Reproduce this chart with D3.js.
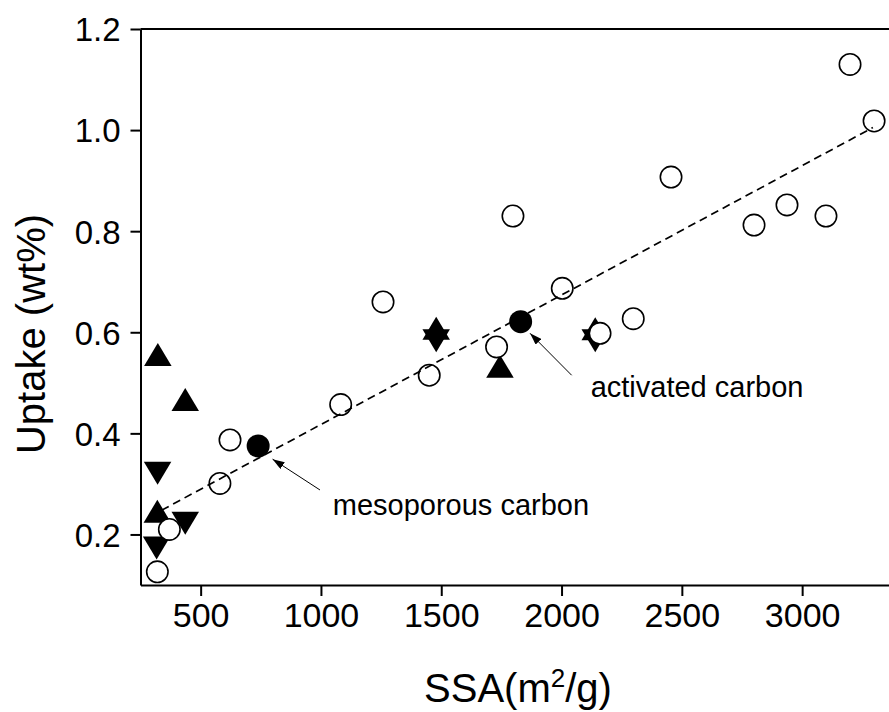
<!DOCTYPE html>
<html>
<head>
<meta charset="utf-8">
<script src="https://cdn.jsdelivr.net/npm/d3@7"></script>
<style>
  body { margin: 0; background: #fff; }
  svg { display: block; font-family: Arial, "Liberation Sans", sans-serif; }
</style>
</head>
<body>
<div id="chart"></div>
<script>
// values
const openX = [320, 370, 580, 622, 1082, 1258, 1450, 1730, 1798, 2003, 2160, 2298, 2455, 2800, 2937, 3099, 3199, 3299];
const openY = [0.126, 0.210, 0.301, 0.387, 0.457, 0.660, 0.515, 0.571, 0.830, 0.687, 0.598, 0.627, 0.907, 0.812, 0.852, 0.830, 1.130, 1.018];

const filledX = [739, 1830];
const filledY = [0.375, 0.621];

const upX = [322, 436, 320, 1744, 1479, 2140];
const upY = [0.556, 0.467, 0.246, 0.533, 0.608, 0.607];

const downX = [321, 436, 317, 1479, 2140];
const downY = [0.321, 0.222, 0.173, 0.583, 0.583];

const fitX = [338, 3294];
const fitY = [0.248, 1.005];

const xTicks = [500, 1000, 1500, 2000, 2500, 3000];
const yTicks = [0.2, 0.4, 0.6, 0.8, 1.0, 1.2];

const notes = [
  {text: "mesoporous carbon", tx: 1049, ty: 0.2385, x1: 996, y1: 0.288, x2: 799, y2: 0.349},
  {text: "activated carbon", tx: 2121, ty: 0.4725, x1: 2042, y1: 0.515, x2: 1869, y2: 0.598}
];

const width = 889, height = 712;

const x = d3.scaleLinear().domain([250, 3400]).range([140.5, 140.5 + 3150 * 0.2406]);
const y = d3.scaleLinear().domain([0.1, 1.2]).range([585, 29]);

const svg = d3.select("#chart").append("svg")
  .attr("width", width)
  .attr("height", height);

svg.append("defs").append("marker")
  .attr("id", "arrow")
  .attr("viewBox", "0 0 12 8")
  .attr("refX", 12).attr("refY", 4)
  .attr("markerWidth", 12).attr("markerHeight", 8)
  .attr("markerUnits", "userSpaceOnUse")
  .attr("orient", "auto")
  .append("path")
  .attr("d", "M0,0L12,4L0,8Z")
  .attr("fill", "#000");

// axes
const xAxis = svg.append("g")
  .attr("transform", `translate(0,${y(0.1)})`)
  .call(d3.axisBottom(x).tickValues(xTicks).tickFormat(d3.format("d")).tickSize(11).tickPadding(7).tickSizeOuter(0));
xAxis.selectAll("text").attr("font-size", 34).attr("fill", "#000");

const yAxis = svg.append("g")
  .attr("transform", `translate(${x(250)},0)`)
  .call(d3.axisLeft(y).tickValues(yTicks).tickFormat(d3.format(".1f")).tickSize(10).tickPadding(10).tickSizeOuter(0));
yAxis.selectAll("text").attr("font-size", 33).attr("fill", "#000").attr("dy", "0.36em");

svg.selectAll(".domain, .tick line").attr("stroke", "#000").attr("stroke-width", 2);

svg.append("line")
  .attr("x1", x(250)).attr("x2", width)
  .attr("y1", y(1.2)).attr("y2", y(1.2))
  .attr("stroke", "#000").attr("stroke-width", 2);

// markers
const triH = 23, triW = 27.5;
const upPath = `M0,${-triH / 2}L${triW / 2},${triH / 2}L${-triW / 2},${triH / 2}Z`;
const downPath = `M0,${triH / 2}L${triW / 2},${-triH / 2}L${-triW / 2},${-triH / 2}Z`;

svg.append("g").selectAll("path")
  .data(d3.zip(upX, upY))
  .join("path")
    .attr("transform", d => `translate(${x(d[0])},${y(d[1])})`)
    .attr("d", upPath)
    .attr("fill", "#000");

svg.append("g").selectAll("path")
  .data(d3.zip(downX, downY))
  .join("path")
    .attr("transform", d => `translate(${x(d[0])},${y(d[1])})`)
    .attr("d", downPath)
    .attr("fill", "#000");

svg.append("g").selectAll("circle")
  .data(d3.zip(openX, openY))
  .join("circle")
    .attr("cx", d => x(d[0]))
    .attr("cy", d => y(d[1]))
    .attr("r", 10.7)
    .attr("fill", "#fff")
    .attr("stroke", "#000")
    .attr("stroke-width", 1.6);

svg.append("g").selectAll("circle")
  .data(d3.zip(filledX, filledY))
  .join("circle")
    .attr("cx", d => x(d[0]))
    .attr("cy", d => y(d[1]))
    .attr("r", 11.5)
    .attr("fill", "#000");

// linear fit
svg.append("path")
  .datum(d3.zip(fitX, fitY))
  .attr("d", d3.line().x(d => x(d[0])).y(d => y(d[1])))
  .attr("fill", "none")
  .attr("stroke", "#000")
  .attr("stroke-width", 1.7)
  .attr("stroke-dasharray", "8,5");

// annotations
const note = svg.append("g").selectAll("g").data(notes).join("g");
note.append("line")
  .attr("x1", d => x(d.x1)).attr("y1", d => y(d.y1))
  .attr("x2", d => x(d.x2)).attr("y2", d => y(d.y2))
  .attr("stroke", "#000").attr("stroke-width", 1)
  .attr("marker-end", "url(#arrow)");
note.append("text")
  .attr("x", d => x(d.tx)).attr("y", d => y(d.ty))
  .attr("font-size", 29)
  .text(d => d.text);

// axis titles
const xt = svg.append("text")
  .attr("x", 518).attr("y", 702)
  .attr("text-anchor", "middle")
  .attr("font-size", 40);
xt.append("tspan").text("SSA(m");
xt.append("tspan").attr("font-size", 26).attr("dy", "-15").text("2");
xt.append("tspan").attr("dy", "15").text("/g)");

svg.append("text")
  .attr("transform", "translate(45,334) rotate(-90)")
  .attr("text-anchor", "middle")
  .attr("font-size", 40)
  .text("Uptake (wt%)");
</script>
</body>
</html>
